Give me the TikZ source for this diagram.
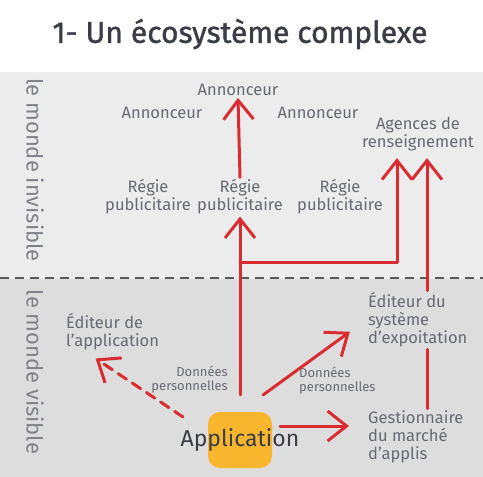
\documentclass[tikz,border=0pt]{standalone}
\usepackage{fontspec}
\setmainfont{Fira Sans}
\usetikzlibrary{arrows.meta}
\definecolor{rouge}{HTML}{D92B30}
\definecolor{jaune}{HTML}{F8B52E}
\definecolor{texte}{HTML}{676A72}
\definecolor{titregris}{HTML}{3A3D46}
\definecolor{cotegris}{HTML}{7F8288}
\definecolor{hautgris}{HTML}{ECECEC}
\definecolor{basgris}{HTML}{DDDDDD}
\tikzset{
  lbl/.style={text=texte, align=center, inner sep=2pt, font=\fontsize{16.5}{18}\selectfont},
  petit/.style={text=texte, inner sep=2pt, font=\fontsize{13}{14}\selectfont},
  titre/.style={text=titregris, font=\fontsize{30}{32}\selectfont\addfontfeatures{FakeBold=1.2}},
  cote/.style={text=cotegris, rotate=-90, font=\fontsize{22}{24}\selectfont},
  appli/.style={text=titregris, font=\fontsize{23}{25}\selectfont},
  boite/.style={fill=jaune, rounded corners=12pt, minimum width=64pt, minimum height=56pt},
  trait/.style={draw=rouge, line width=3pt, line cap=round, line join=round},
  fleche/.style={trait, -{Straight Barb[length=19pt,width=30pt]}},
  separation/.style={draw=black!65, line width=1.5pt, dash pattern=on 9pt off 6pt}
}
\begin{document}
\begin{tikzpicture}[x=1pt,y=-1pt]
% fonds
\useasboundingbox (0,0) rectangle (483,477);
\fill[white] (0,0) rectangle (483,72);
\fill[hautgris] (0,72) rectangle (483,279);
\fill[basgris] (0,279) rectangle (483,477);
\draw[separation] (0,278) -- (483,278);

\node[titre] (titre) at (240,34) {1- Un écosystème complexe};
\node[cote] (invisible) at (35,170) {le monde invisible};
\node[cote] (visible) at (35,372) {le monde visible};

% monde invisible
\node[lbl] (ann1) at (238,90) {Annonceur};
\node[lbl] (ann2) at (162,113) {Annonceur};
\node[lbl] (ann3) at (318,113) {Annonceur};
\node[lbl] (agences) at (418,134) {Agences de\\renseignement};
\node[lbl] (regie1) at (148,197) {Régie\\publicitaire};
\node[lbl] (regie2) at (240,197) {Régie\\publicitaire};
\node[lbl] (regie3) at (340,197) {Régie\\publicitaire};

% monde visible
\node[lbl, align=left, anchor=west] (edapp) at (64,332) {Éditeur de\\l'application};
\node[lbl, align=left, anchor=west] (edos) at (366,320) {Éditeur du\\système\\d'expoitation};
\node[lbl, align=left, anchor=west] (gest) at (366,437) {Gestionnaire\\du marché\\d'applis};
\node[petit, align=right, anchor=east] (don1) at (230,380) {Données\\personnelles};
\node[petit, align=left, anchor=west] (don2) at (297,381) {Données\\personnelles};
\node[boite] (appbox) at (240,440) {};
\node[appli] (app) at (240,440) {Application};

% fleches
\coordinate (coude) at (240,262);
\coordinate (axeG) at (397,0);
\coordinate (axeD) at (427,0);
\coordinate (depos) at (263,395);
\coordinate (depgest) at (280,426);
\coordinate (depapp) at (183,417);
\draw[fleche, shorten <=17pt] (appbox.north) -- (regie2.south);
\draw[fleche] (regie2.north) -- (ann1.south);
\draw[fleche, shorten >=5pt] (coude) -| (agences.south -| axeG);
\draw[trait] (gest.north -| axeD) -- (edos.south -| axeD);
\draw[fleche, shorten >=5pt] (edos.north -| axeD) -- (agences.south -| axeD);
\draw[fleche, shorten >=20pt] (depos) -- (edos.west);
\draw[fleche, shorten >=17pt] (depgest) -- (depgest -| gest.west);
\draw[fleche, dash pattern=on 10pt off 7pt] (depapp) -- ([xshift=-17pt,yshift=-6pt]edapp.south);
\end{tikzpicture}
\end{document}
